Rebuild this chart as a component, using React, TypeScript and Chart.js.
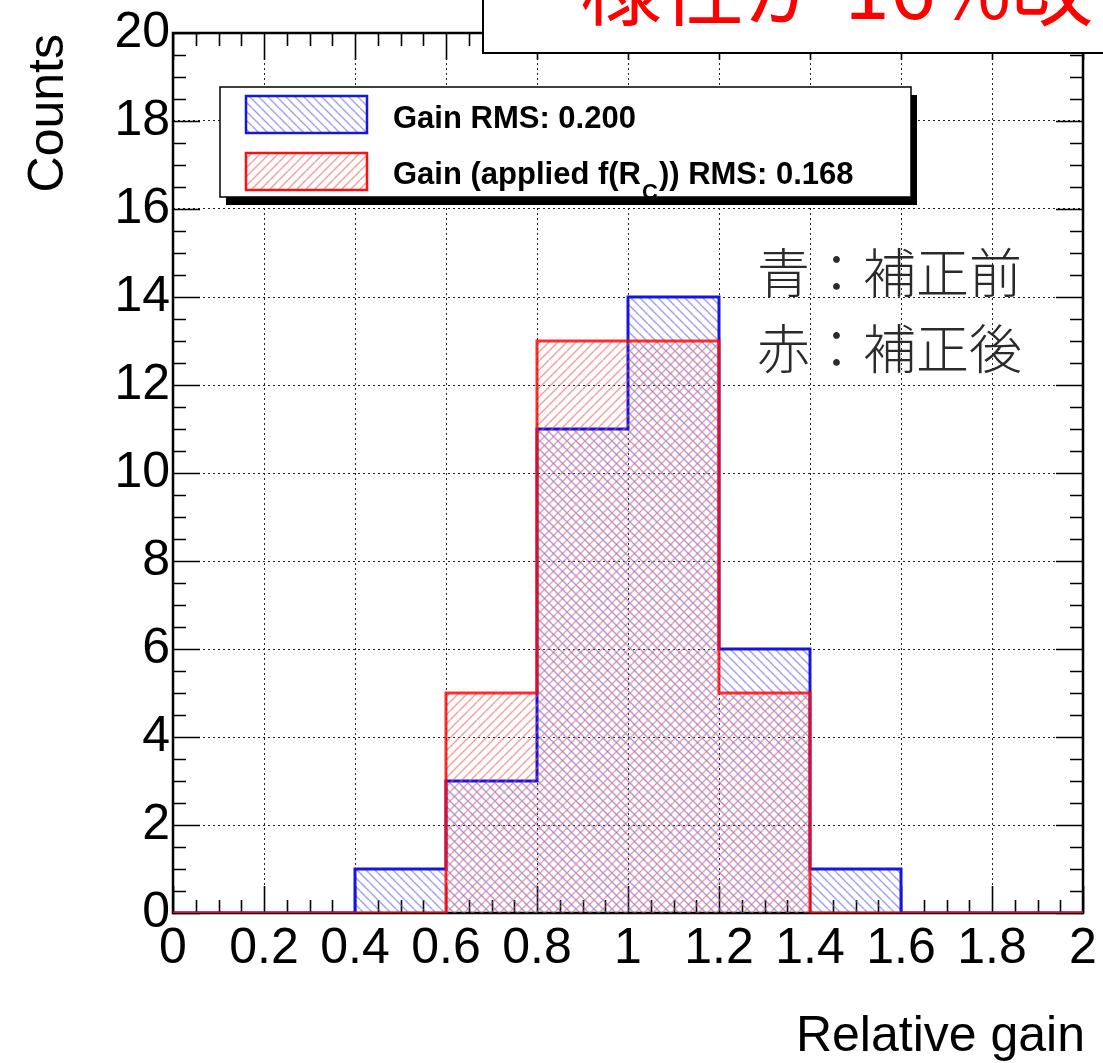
import React, { useEffect, useRef } from "react";
import { Chart, registerables } from "chart.js";

Chart.register(...registerables);

// Histogram bins (relative gain) and counts per bin
const binEdges = [0, 0.2, 0.4, 0.6, 0.8, 1.0, 1.2, 1.4, 1.6, 1.8, 2.0];
const gainCounts = [0, 0, 1, 3, 11, 14, 6, 1, 0, 0];
const correctedCounts = [0, 0, 0, 5, 13, 13, 5, 0, 0, 0];

// Axis ticks
const xTickValues = [0, 0.2, 0.4, 0.6, 0.8, 1.0, 1.2, 1.4, 1.6, 1.8, 2.0];
const xTickLabels = ["0", "0.2", "0.4", "0.6", "0.8", "1", "1.2", "1.4", "1.6", "1.8", "2"];
const yTickValues = [0, 2, 4, 6, 8, 10, 12, 14, 16, 18, 20];
const yTickLabels = ["0", "2", "4", "6", "8", "10", "12", "14", "16", "18", "20"];

// Texts
const legendLabels = ["Gain RMS: 0.200", "Gain (applied f(R", "C", ")) RMS: 0.168"];
const noteLines = ["青：補正前", "赤：補正後"];
const headline = "一様性が 16%改善";
const xTitle = "Relative gain";
const yTitle = "Counts";

const BLUE = "#1616e0";
const RED = "rgba(255,10,10,0.85)";
const SANS = "'Liberation Sans', Arial, sans-serif";
const CJK = "'Noto Sans CJK JP', 'Noto Sans', sans-serif";

function hatch(color: string, dir: "back" | "fwd"): CanvasPattern | string {
  const s = 9;
  const c = document.createElement("canvas");
  c.width = s;
  c.height = s;
  const g = c.getContext("2d");
  if (!g) return color;
  g.strokeStyle = color;
  g.lineWidth = 1.4;
  for (let k = -1; k <= 1; k++) {
    g.beginPath();
    if (dir === "back") {
      g.moveTo(k * s, 0);
      g.lineTo(k * s + s, s);
    } else {
      g.moveTo(k * s, s);
      g.lineTo(k * s + s, 0);
    }
    g.stroke();
  }
  const p = g.createPattern(c, "repeat");
  return p || color;
}

function steps(counts: number[]) {
  return binEdges.map((e, i) => ({ x: e, y: counts[Math.min(i, counts.length - 1)] }));
}

export default function App() {
  const ref = useRef<HTMLCanvasElement | null>(null);

  useEffect(() => {
    document.body.style.margin = "0";
    const canvas = ref.current;
    if (!canvas) return;

    const bluePattern = hatch("rgba(95,95,235,0.6)", "back");
    const redPattern = hatch("rgba(245,90,90,0.6)", "fwd");

    const framePlugin = {
      id: "frameTicks",
      beforeDatasetsDraw(chart: any) {
        const { ctx, chartArea: a } = chart;
        const x = chart.scales.x;
        const y = chart.scales.y;
        ctx.save();
        ctx.strokeStyle = "#000";
        ctx.lineWidth = 1.6;
        ctx.beginPath();
        for (let i = 0; i <= 40; i++) {
          const px = Math.round(x.getPixelForValue(i * 0.05)) + 0.5;
          const len = i % 4 === 0 ? 27 : 13;
          ctx.moveTo(px, a.bottom);
          ctx.lineTo(px, a.bottom - len);
          ctx.moveTo(px, a.top);
          ctx.lineTo(px, a.top + len);
        }
        for (let i = 0; i <= 40; i++) {
          const py = Math.round(y.getPixelForValue(i * 0.5)) + 0.5;
          const len = i % 4 === 0 ? 27 : 13;
          ctx.moveTo(a.left, py);
          ctx.lineTo(a.left + len, py);
          ctx.moveTo(a.right, py);
          ctx.lineTo(a.right - len, py);
        }
        ctx.stroke();
        ctx.lineWidth = 2.5;
        ctx.strokeRect(a.left, a.top, a.right - a.left, a.bottom - a.top);
        ctx.restore();
      },
      afterDraw(chart: any) {
        const { ctx, chartArea: a } = chart;
        ctx.save();

        // axis titles
        ctx.fillStyle = "#000";
        ctx.font = `50px ${SANS}`;
        ctx.textAlign = "right";
        ctx.textBaseline = "alphabetic";
        ctx.fillText(xTitle, a.right + 2, 1051);
        ctx.save();
        ctx.translate(63, a.top + 1);
        ctx.rotate(-Math.PI / 2);
        ctx.fillText(yTitle, 0, 0);
        ctx.restore();

        // legend box with drop shadow
        const lx = 220, ly = 87, lw = 691, lh = 110;
        ctx.fillStyle = "#000";
        ctx.fillRect(lx + 6, ly + 8, lw, lh);
        ctx.fillStyle = "#fff";
        ctx.fillRect(lx, ly, lw, lh);
        ctx.strokeStyle = "#000";
        ctx.lineWidth = 1.5;
        ctx.strokeRect(lx, ly, lw, lh);

        const sw = [
          { y: 96, pat: bluePattern, col: BLUE },
          { y: 153, pat: redPattern, col: "#ff1010" },
        ];
        sw.forEach((s) => {
          ctx.fillStyle = "#fff";
          ctx.fillRect(246, s.y, 121, 37);
          ctx.fillStyle = s.pat as any;
          ctx.fillRect(246, s.y, 121, 37);
          ctx.strokeStyle = s.col;
          ctx.lineWidth = 2.5;
          ctx.strokeRect(246, s.y, 121, 37);
        });

        ctx.fillStyle = "#000";
        ctx.textAlign = "left";
        ctx.font = `bold 31px ${SANS}`;
        ctx.fillText(legendLabels[0], 393, 128);
        let tx = 393;
        ctx.fillText(legendLabels[1], tx, 184);
        tx += ctx.measureText(legendLabels[1]).width;
        ctx.font = `bold 22px ${SANS}`;
        ctx.fillText(legendLabels[2], tx + 1, 199);
        tx += ctx.measureText(legendLabels[2]).width + 2;
        ctx.font = `bold 31px ${SANS}`;
        ctx.fillText(legendLabels[3], tx, 184);

        // annotation
        ctx.fillStyle = "#2a2a2a";
        ctx.font = `300 53px ${CJK}`;
        ctx.textBaseline = "middle";
        ctx.fillText(noteLines[0], 757, 273);
        ctx.fillText(noteLines[1], 757, 349);

        // headline box at top
        ctx.fillStyle = "#fff";
        ctx.fillRect(483, -10, 640, 63);
        ctx.strokeStyle = "#000";
        ctx.lineWidth = 2;
        ctx.strokeRect(483, -10, 640, 63);
        ctx.fillStyle = "#ff0000";
        ctx.font = `82px ${CJK}`;
        ctx.textBaseline = "alphabetic";
        ctx.fillText(headline, 498, 19);

        ctx.restore();
      },
    };

    const chart = new Chart(canvas, {
      type: "line",
      data: {
        datasets: [
          {
            label: "Gain",
            data: steps(gainCounts),
            stepped: true,
            fill: "origin",
            backgroundColor: bluePattern as any,
            borderColor: BLUE,
            borderWidth: 3,
            pointRadius: 0,
            order: 2,
          },
          {
            label: "Gain (applied f(Rc))",
            data: steps(correctedCounts),
            stepped: true,
            fill: "origin",
            backgroundColor: redPattern as any,
            borderColor: RED,
            borderWidth: 3,
            pointRadius: 0,
            order: 1,
          },
        ],
      },
      options: {
        animation: false,
        responsive: false,
        devicePixelRatio: 1,
        layout: { padding: { left: 0, right: 20, top: 30, bottom: 0 } },
        plugins: { legend: { display: false }, tooltip: { enabled: false } },
        scales: {
          x: {
            type: "linear",
            min: 0,
            max: 2,
            afterBuildTicks: (s: any) => {
              s.ticks = xTickValues.map((v) => ({ value: v }));
            },
            afterFit: (s: any) => {
              s.height = 150;
            },
            ticks: {
              autoSkip: false,
              maxRotation: 0,
              padding: 6,
              color: "#000",
              font: { family: SANS, size: 50 },
              callback: (_v: any, i: number) => xTickLabels[i],
            },
            grid: { color: "#222", lineWidth: 1, drawTicks: false },
            border: { display: false, dash: [2, 3] },
          },
          y: {
            type: "linear",
            min: 0,
            max: 20,
            afterBuildTicks: (s: any) => {
              s.ticks = yTickValues.map((v) => ({ value: v }));
            },
            afterFit: (s: any) => {
              s.width = 173;
            },
            ticks: {
              autoSkip: false,
              padding: 3,
              color: "#000",
              font: { family: SANS, size: 50 },
              callback: (_v: any, i: number) => yTickLabels[i],
            },
            grid: { color: "#222", lineWidth: 1, drawTicks: false },
            border: { display: false, dash: [2, 3] },
          },
        },
      },
      plugins: [framePlugin],
    } as any);

    return () => chart.destroy();
  }, []);

  return (
    <div style={{ position: "fixed", left: 0, top: 0, width: 1103, height: 1063, background: "#fff" }}>
      <canvas ref={ref} width={1103} height={1063} style={{ display: "block" }} />
    </div>
  );
}
